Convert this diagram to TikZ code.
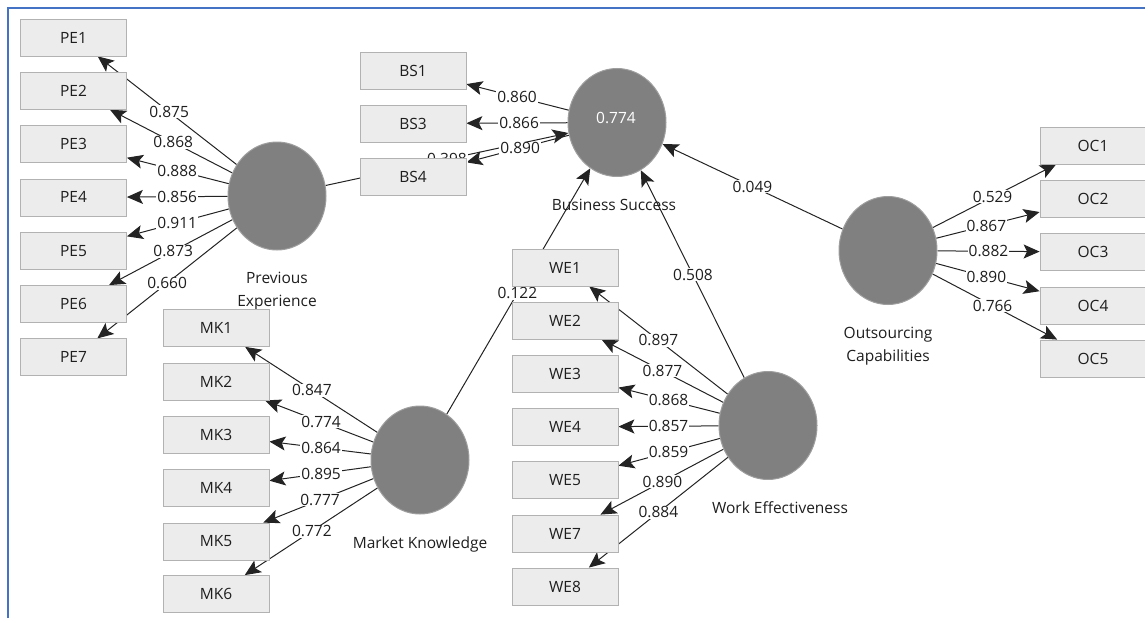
\documentclass[tikz,border=0pt]{standalone}
\usepackage{fontspec}
\setmainfont{Open Sans}
\usetikzlibrary{shapes.geometric,arrows.meta,calc}
\pgfdeclarelayer{edges}
\pgfdeclarelayer{labels}
\pgfsetlayers{edges,labels,main}
\definecolor{boxfill}{RGB}{236,236,236}
\definecolor{boxline}{RGB}{178,178,178}
\definecolor{latfill}{RGB}{128,128,128}
\definecolor{latline}{RGB}{158,158,158}
\definecolor{frameblue}{RGB}{68,114,196}
\definecolor{edgecol}{RGB}{35,35,35}
\definecolor{txt}{RGB}{30,30,30}
\tikzset{tipA/.tip={Stealth[length=16pt,width=14pt,inset=3.5pt]}}
\begin{document}
\begin{tikzpicture}[x=1pt,y=-1pt,
  ind/.style={rectangle,minimum width=106pt,minimum height=37pt,fill=boxfill,draw=boxline,line width=0.8pt,font=\fontsize{15.5}{18}\selectfont,text=txt,inner sep=0pt},
  lat/.style={ellipse,minimum width=98pt,minimum height=108pt,fill=latfill,draw=latline,line width=1pt,inner sep=0pt},
  captxt/.style={font=\fontsize{15.5}{22.5}\selectfont,text=txt,align=center,inner sep=0pt},
  ld/.style={draw=edgecol,line width=1pt,-tipA},
  lbl/.style={fill=white,inner sep=1pt,text height=11pt,text depth=0pt,font=\fontsize{15.5}{15}\selectfont,text=txt}]
\useasboundingbox (0,0) rectangle (1145,618);
\coordinate (fA) at (8,618);
\coordinate (fB) at (8,8);
\coordinate (fC) at (1145,8);
\draw[frameblue,line width=2pt] (fA) -- (fB) -- (fC);

% latent variables
\node[lat] (PE) at (277,196) {};
\node[lat] (BS) at (617,122.5) {};
\node[lat] (MK) at (420,460) {};
\node[lat] (WE) at (768,425.5) {};
\node[lat] (OC) at (888,250.5) {};
\node[text=white,font=\fontsize{15.5}{15}\selectfont,inner sep=0pt] (BSv) at (616,117.5) {0.774};

% captions
\node[captxt] (PEc) at (277,291) {Previous\\Experience};
\node[captxt] (BSc) at (614,204.5) {Business Success};
\node[captxt,text height=11pt,text depth=3pt] (MKc) at (420,544) {Market Knowledge};
\node[captxt] (WEc) at (780,507.5) {Work Effectiveness};
\node[captxt] (OCc) at (888,346) {Outsourcing\\Capabilities};

% indicators
\foreach \i/\y in {1/37.5,2/90.8,3/144.1,4/197.4,5/250.7,6/304,7/357.3}
  \node[ind] (PE\i) at (73.5,\y) {PE\i};
\foreach \i/\y in {1/70.5,3/123.5,4/176.5}
  \node[ind] (BS\i) at (413,\y) {BS\i};
\foreach \i/\y in {1/328,2/381.5,3/435,4/488,5/541.5,6/594}
  \node[ind] (MK\i) at (216,\y) {MK\i};
\foreach \i/\y in {1/267.5,2/320.5,3/374,4/427,5/480,7/533.5,8/586.5}
  \node[ind] (WE\i) at (565,\y) {WE\i};
\foreach \i/\y in {1/145.5,2/198.5,3/252,4/305.5,5/358.5}
  \node[ind] (OC\i) at (1093,\y) {OC\i};

% connectors
\begin{pgfonlayer}{edges}
  \foreach \i in {1,...,7} \draw[ld] (PE) -- (PE\i);
  \foreach \i in {1,3,4} \draw[ld] (BS) -- (BS\i);
  \foreach \i in {1,...,6} \draw[ld] (MK) -- (MK\i);
  \foreach \i in {1,2,3,4,5,7,8} \draw[ld] (WE) -- (WE\i);
  \foreach \i in {1,...,5} \draw[ld] (OC) -- (OC\i);
  \draw[ld] (PE) -- (BS);
  \draw[ld] (MK) -- (BS);
  \draw[ld] (WE) -- (BS);
  \draw[ld] (OC) -- (BS);
\end{pgfonlayer}

% path labels
\begin{pgfonlayer}{labels}
  \foreach \i/\p/\v in {1/0.53/0.875,2/0.51/0.868,3/0.49/0.888,4/0.49/0.856,5/0.49/0.911,6/0.51/0.873,7/0.54/0.660}
    \node[lbl] (lPE\i) at ($(PE)!\p!(PE\i)$) {\v};
  \foreach \i/\p/\v in {1/0.49/0.860,3/0.48/0.866,4/0.475/0.890}
    \node[lbl] (lBS\i) at ($(BS)!\p!(BS\i)$) {\v};
  \foreach \i/\p/\v in {1/0.53/0.847,2/0.485/0.774,3/0.485/0.864,4/0.485/0.895,5/0.49/0.777,6/0.53/0.772}
    \node[lbl] (lMK\i) at ($(MK)!\p!(MK\i)$) {\v};
  \foreach \i/\p/\v in {1/0.54/0.897,2/0.52/0.877,3/0.49/0.868,4/0.49/0.857,5/0.49/0.859,7/0.52/0.890,8/0.54/0.884}
    \node[lbl] (lWE\i) at ($(WE)!\p!(WE\i)$) {\v};
  \foreach \i/\p/\v in {1/0.51/0.529,2/0.48/0.867,3/0.49/0.882,4/0.48/0.890,5/0.51/0.766}
    \node[lbl] (lOC\i) at ($(OC)!\p!(OC\i)$) {\v};
  \node[lbl] (lPEBS) at ($(PE)!0.5!(BS)$) {0.398};
  \node[lbl] (lMKBS) at ($(MK)!0.494!(BS)$) {0.122};
  \node[lbl] (lWEBS) at ($(WE)!0.497!(BS)$) {0.508};
  \node[lbl] (lOCBS) at ($(OC)!0.5!(BS)$) {0.049};
\end{pgfonlayer}
\end{tikzpicture}
\end{document}
